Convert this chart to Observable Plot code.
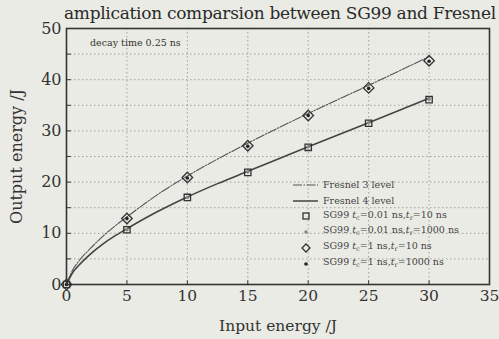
<!DOCTYPE html>
<html>
<head>
<meta charset="utf-8">
<script src="https://cdn.jsdelivr.net/npm/d3@7"></script>
<script src="https://cdn.jsdelivr.net/npm/@observablehq/plot@0.6"></script>
<style>
  html, body { margin: 0; padding: 0; background: #ebebe5; }
  #wrap { position: relative; width: 499px; height: 339px; overflow: hidden; font-family: "DejaVu Serif", serif; color: #333; }
  #title { position: absolute; top: 3px; left: 64px; font-size: 17px; letter-spacing: -0.3px; white-space: nowrap; color: #2a2a2a; }
  #note { position: absolute; top: 37px; left: 90px; font-size: 9.5px; color: #333; }
  #legend { position: absolute; left: 292px; top: 177px; font-size: 9.5px; color: #444; line-height: 15.8px; }
  #legend div { display: flex; align-items: center; height: 15.8px; white-space: pre; }
  #legend svg { width: 28px; height: 12px; margin-right: 3px; flex: none; }
  sub { font-size: 6.5px; vertical-align: -2px; }
</style>
</head>
<body>
<div id="wrap">
  <div id="chart"></div>
  <div id="title">amplication comparsion between SG99 and Fresnel</div>
  <div id="note">decay time 0.25 ns</div>
  <div id="legend">
    <div><svg><line x1="1" x2="26" y1="6" y2="6" stroke="#555" stroke-width="1.1" stroke-dasharray="9,1.5,1.5,1.5"/></svg><span>Fresnel 3 level</span></div>
    <div><svg><line x1="1" x2="26" y1="6" y2="6" stroke="#444" stroke-width="1.5"/></svg><span>Fresnel 4 level</span></div>
    <div><svg><rect x="11" y="3" width="6" height="6" fill="none" stroke="#333" stroke-width="1.3"/></svg><span>SG99 <i>t</i><sub>c</sub>=0.01 ns,<i>t</i><sub>r</sub>=10 ns</span></div>
    <div><svg><circle cx="14" cy="6" r="1.8" fill="#888"/></svg><span>SG99 <i>t</i><sub>c</sub>=0.01 ns,<i>t</i><sub>r</sub>=1000 ns</span></div>
    <div><svg><path d="M14,2 L18,6 L14,10 L10,6 Z" fill="none" stroke="#333" stroke-width="1.3"/></svg><span>SG99 <i>t</i><sub>c</sub>=1 ns,<i>t</i><sub>r</sub>=10 ns</span></div>
    <div><svg><circle cx="14" cy="6" r="1.8" fill="#222"/></svg><span>SG99 <i>t</i><sub>c</sub>=1 ns,<i>t</i><sub>r</sub>=1000 ns</span></div>
  </div>
</div>
<script>
// Fresnel model curves
const fresnelX  = [0, 0.5, 1, 2, 3, 4, 5, 7.5, 10, 12.5, 15, 20, 25, 30];
const fresnel3  = [0, 2.8, 4.5, 7.1, 9.4, 11.4, 13.2, 17.5, 21.2, 24.5, 27.6, 33.4, 38.9, 44.5];
const fresnel4  = [0, 2.3, 3.7, 6.0, 7.9, 9.5, 10.9, 14.2, 17.1, 19.7, 22.1, 26.9, 31.6, 36.4];

// SG99 simulation points
const sgX          = [0, 5, 10, 15, 20, 25, 30];
const sgC001R10    = [0, 10.7, 17.0, 21.9, 26.8, 31.5, 36.1];
const sgC001R1000  = [0, 10.7, 17.0, 22.0, 26.9, 31.6, 36.2];
const sgC1R10      = [0, 12.9, 20.9, 27.1, 33.0, 38.4, 43.7];
const sgC1R1000    = [0, 12.9, 20.8, 27.0, 33.0, 38.3, 43.6];

const xTicks = [0, 5, 10, 15, 20, 25, 30, 35];
const yTicks = [0, 10, 20, 30, 40, 50];
const gridY  = [5, 10, 15, 20, 25, 30, 35, 40, 45];
const gridX  = [5, 10, 15, 20, 25, 30];

const curve3 = fresnelX.map((x, i) => ({x, y: fresnel3[i]}));
const curve4 = fresnelX.map((x, i) => ({x, y: fresnel4[i]}));
const pts = (ys) => sgX.map((x, i) => ({x, y: ys[i]}));

// square-proportioned diamond symbol
const squareDiamond = {
  draw(context, size) {
    const h = Math.sqrt(size / 2);
    context.moveTo(0, -h);
    context.lineTo(h, 0);
    context.lineTo(0, h);
    context.lineTo(-h, 0);
    context.closePath();
  }
};

const chart = Plot.plot({
  width: 499,
  height: 339,
  marginLeft: 66,
  marginRight: 10,
  marginTop: 28,
  marginBottom: 55,
  style: { background: "transparent", fontFamily: "DejaVu Serif, serif", fontSize: "15px", color: "#333" },
  x: { domain: [0, 35] },
  y: { domain: [0, 50] },
  marks: [
    Plot.ruleY(gridY, { stroke: "#777", strokeWidth: 0.8, strokeDasharray: "1.5,2.5", strokeOpacity: 0.8 }),
    Plot.ruleX(gridX, { stroke: "#777", strokeWidth: 0.8, strokeDasharray: "1.5,2.5", strokeOpacity: 0.8 }),
    Plot.ruleX(gridX, { y1: 0, y2: 0.7, stroke: "#333", strokeWidth: 1 }),
    Plot.ruleY(gridY, { x1: 0, x2: 0.4, stroke: "#333", strokeWidth: 1 }),
    Plot.axisX(xTicks, { tickSize: 0, tickPadding: 5, label: "Input energy /J", labelAnchor: "center", labelArrow: "none", labelOffset: 46, fontSize: 15.5 }),
    Plot.axisY(yTicks, { tickSize: 0, tickPadding: 5, label: "Output energy /J", labelAnchor: "center", labelArrow: "none", labelOffset: 56, fontSize: 16 }),
    Plot.line(curve3, { x: "x", y: "y", curve: "monotone-x", stroke: "#555", strokeWidth: 1.1, strokeDasharray: "9,1.5,1.5,1.5" }),
    Plot.line(curve4, { x: "x", y: "y", curve: "monotone-x", stroke: "#444", strokeWidth: 1.6 }),
    Plot.dot(pts(sgC001R10), { x: "x", y: "y", symbol: "square", r: 3.6, stroke: "#333", strokeWidth: 1.3, fill: "none" }),
    Plot.dot(pts(sgC001R1000), { x: "x", y: "y", r: 1.8, fill: "#888", stroke: "none" }),
    Plot.dot(pts(sgC1R10), { x: "x", y: "y", symbol: squareDiamond, r: 4.2, stroke: "#333", strokeWidth: 1.3, fill: "none" }),
    Plot.dot(pts(sgC1R1000), { x: "x", y: "y", r: 1.8, fill: "#222", stroke: "none" }),
    Plot.frame({ stroke: "#333", strokeWidth: 1.6 })
  ]
});
document.getElementById("chart").appendChild(chart);
</script>
</body>
</html>
